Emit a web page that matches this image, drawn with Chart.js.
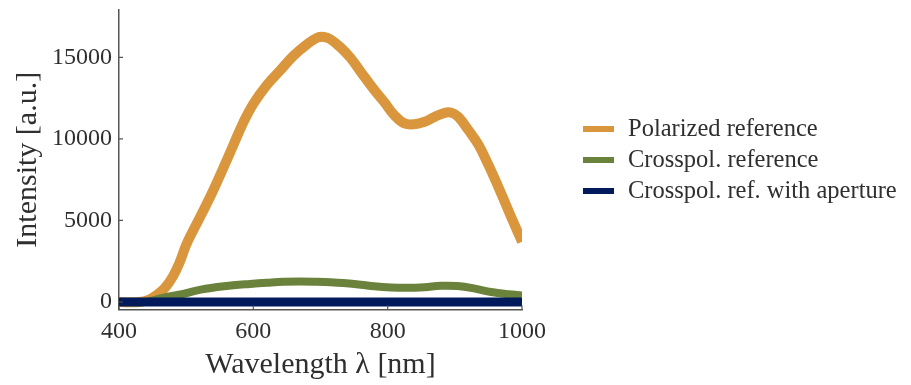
<!DOCTYPE html>
<html>
<head>
<meta charset="utf-8">
<script src="https://cdn.jsdelivr.net/npm/chart.js@4/dist/chart.umd.min.js"></script>
<style>
  html, body { margin: 0; padding: 0; background: #ffffff; }
  canvas { display: block; }
</style>
</head>
<body>
<canvas id="spectra" width="911" height="385"></canvas>
<script>
// Wavelength grid (nm) and intensities (a.u.) for each measured spectrum
const polarizedWavelength = [400, 430, 445, 455, 468, 480, 490, 500, 510, 520, 531, 542, 553, 570, 585, 600, 620, 640, 660, 680, 695, 705, 715, 730, 745, 760, 780, 795, 810, 825, 840, 855, 870, 885, 895, 905, 920, 935, 950, 969, 985, 1000];
const polarizedIntensity  = [0, 0, 150, 400, 850, 1550, 2400, 3500, 4350, 5150, 6050, 7000, 8000, 9600, 11000, 12150, 13300, 14200, 15100, 15800, 16200, 16250, 16100, 15600, 14950, 14100, 13000, 12250, 11450, 10950, 10900, 11050, 11350, 11600, 11600, 11350, 10550, 9650, 8400, 6650, 5100, 3700];

const crosspolWavelength = [400, 440, 455, 470, 485, 496, 515, 546, 570, 595, 620, 645, 670, 695, 715, 734, 760, 780, 805, 829, 855, 879, 904, 930, 954, 980, 1000];
const crosspolIntensity  = [0, 0, 150, 300, 420, 500, 700, 915, 1030, 1110, 1180, 1240, 1260, 1240, 1210, 1160, 1060, 960, 890, 870, 910, 990, 975, 820, 610, 470, 400];

const apertureWavelength = [400, 500, 600, 700, 800, 900, 1000];
const apertureIntensity  = [0, 0, 0, 0, 0, 0, 0];

const seriesLabels = ['Polarized reference', 'Crosspol. reference', 'Crosspol. ref. with aperture'];
const seriesColors = ['#D9963C', '#6A823B', '#001A5C'];

const xTicks = [400, 600, 800, 1000];
const yTicks = [0, 5000, 10000, 15000];

const toPoints = (xs, ys) => xs.map((x, i) => ({ x: x, y: ys[i] }));

const serif = '"Liberation Serif", "Times New Roman", serif';
const textColor = '#2f2f2f';
const axisColor = '#555555';

// Short tick marks pointing into the plotting area
const innerTicks = {
  id: 'innerTicks',
  afterDraw(chart) {
    const { ctx, chartArea, scales } = chart;
    ctx.save();
    ctx.strokeStyle = axisColor;
    ctx.lineWidth = 1.2;
    ctx.beginPath();
    xTicks.forEach(v => {
      const px = scales.x.getPixelForValue(v);
      ctx.moveTo(px, chartArea.bottom);
      ctx.lineTo(px, chartArea.bottom - 4);
    });
    yTicks.forEach(v => {
      const py = scales.y.getPixelForValue(v);
      ctx.moveTo(chartArea.left, py);
      ctx.lineTo(chartArea.left + 4, py);
    });
    ctx.stroke();
    ctx.restore();
  }
};

// Legend to the right of the plot: thin colour bar followed by the series name
const sideLegend = {
  id: 'sideLegend',
  afterDraw(chart) {
    const { ctx } = chart;
    const left = 583, barW = 31, barH = 6, gap = 14, top = 129, step = 31;
    ctx.save();
    ctx.font = '24.5px ' + serif;
    ctx.textBaseline = 'alphabetic';
    ctx.textAlign = 'left';
    chart.data.datasets.forEach((ds, i) => {
      const cy = top + i * step;
      ctx.fillStyle = ds.borderColor;
      ctx.fillRect(left, cy - barH / 2, barW, barH);
      ctx.fillStyle = textColor;
      ctx.fillText(ds.label, left + barW + gap, cy + 7);
    });
    ctx.restore();
  }
};

const plainNumber = v => String(v);

// Fixed axis boxes so the plotting area keeps its place
const fixAxisBox = size => axis => {
  if (axis.isHorizontal()) { axis.height = size; } else { axis.width = size; }
  axis.paddingTop = 0;
  axis.paddingBottom = 0;
  axis.paddingLeft = 0;
  axis.paddingRight = 0;
};

new Chart(document.getElementById('spectra'), {
  type: 'line',
  data: {
    datasets: [
      {
        label: seriesLabels[0],
        data: toPoints(polarizedWavelength, polarizedIntensity),
        borderColor: seriesColors[0],
        borderWidth: 10,
        order: 3
      },
      {
        label: seriesLabels[1],
        data: toPoints(crosspolWavelength, crosspolIntensity),
        borderColor: seriesColors[1],
        borderWidth: 8,
        order: 2
      },
      {
        label: seriesLabels[2],
        data: toPoints(apertureWavelength, apertureIntensity),
        borderColor: seriesColors[2],
        borderWidth: 9,
        order: 1
      }
    ]
  },
  options: {
    responsive: false,
    animation: false,
    devicePixelRatio: 1,
    layout: { padding: { left: 0, top: 10, right: 389, bottom: 0 } },
    elements: {
      point: { radius: 0 },
      line: { tension: 0.4, fill: false, borderCapStyle: 'butt', borderJoinStyle: 'round' }
    },
    plugins: {
      legend: { display: false },
      tooltip: { enabled: false }
    },
    scales: {
      x: {
        type: 'linear',
        min: 400,
        max: 1000,
        afterBuildTicks: axis => { axis.ticks = xTicks.map(v => ({ value: v })); },
        afterFit: fixAxisBox(75.5),
        grid: { display: false, drawTicks: false },
        border: { display: true, color: axisColor, width: 1.5 },
        ticks: { color: textColor, font: { family: serif, size: 24 }, padding: 8, maxRotation: 0, callback: plainNumber },
        title: {
          display: true,
          text: 'Wavelength λ [nm]',
          color: textColor,
          font: { family: serif, size: 30 },
          padding: { top: 0, bottom: 2 }
        }
      },
      y: {
        type: 'linear',
        min: -460,
        max: 17900,
        afterBuildTicks: axis => { axis.ticks = yTicks.map(v => ({ value: v })); },
        afterFit: fixAxisBox(119),
        grid: { display: false, drawTicks: false },
        border: { display: true, color: axisColor, width: 1.5 },
        ticks: { color: textColor, font: { family: serif, size: 24 }, padding: 7, callback: plainNumber },
        title: {
          display: true,
          text: 'Intensity [a.u.]',
          color: textColor,
          font: { family: serif, size: 30 },
          padding: { top: 10, bottom: 10 }
        }
      }
    }
  },
  plugins: [innerTicks, sideLegend]
});
</script>
</body>
</html>
